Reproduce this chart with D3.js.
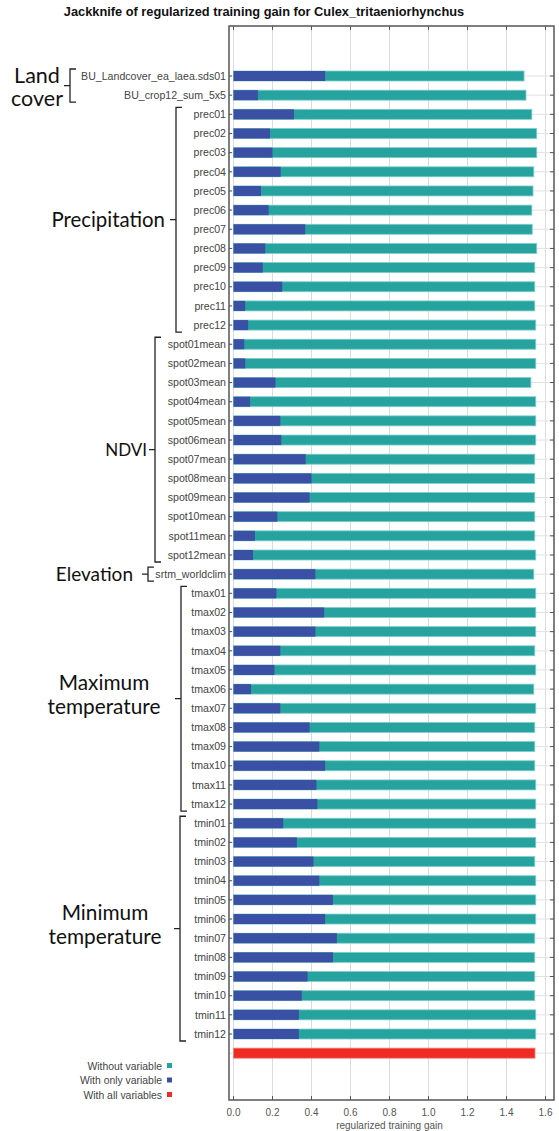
<!DOCTYPE html>
<html><head><meta charset="utf-8">
<script src="https://cdn.jsdelivr.net/npm/d3@7"></script>
<style>body{margin:0;background:#fff;} svg{display:block}</style>
</head><body><svg id="c" width="559" height="1131"></svg>
<script>
// ---------- DATA ----------
const title = "Jackknife of regularized training gain for Culex_tritaeniorhynchus";
const variables = [
  "BU_Landcover_ea_laea.sds01","BU_crop12_sum_5x5",
  "prec01","prec02","prec03","prec04","prec05","prec06","prec07","prec08","prec09","prec10","prec11","prec12",
  "spot01mean","spot02mean","spot03mean","spot04mean","spot05mean","spot06mean","spot07mean","spot08mean","spot09mean","spot10mean","spot11mean","spot12mean",
  "srtm_worldclim",
  "tmax01","tmax02","tmax03","tmax04","tmax05","tmax06","tmax07","tmax08","tmax09","tmax10","tmax11","tmax12",
  "tmin01","tmin02","tmin03","tmin04","tmin05","tmin06","tmin07","tmin08","tmin09","tmin10","tmin11","tmin12"
];
const withoutVariable = [
  1.49,1.50,
  1.53,1.555,1.555,1.54,1.536,1.53,1.532,1.555,1.545,1.545,1.545,1.55,
  1.55,1.55,1.525,1.55,1.55,1.55,1.545,1.545,1.545,1.545,1.545,1.55,
  1.54,
  1.55,1.55,1.55,1.545,1.55,1.54,1.55,1.545,1.545,1.545,1.55,1.55,
  1.55,1.55,1.545,1.55,1.55,1.55,1.545,1.545,1.545,1.545,1.55,1.55
];
const withOnlyVariable = [
  0.47,0.125,
  0.31,0.187,0.20,0.242,0.141,0.18,0.368,0.163,0.15,0.25,0.06,0.075,
  0.055,0.06,0.215,0.085,0.24,0.245,0.37,0.40,0.39,0.225,0.11,0.10,
  0.42,
  0.22,0.465,0.42,0.24,0.21,0.09,0.24,0.39,0.44,0.47,0.425,0.43,
  0.255,0.325,0.41,0.44,0.51,0.47,0.53,0.51,0.38,0.35,0.335,0.335
];
const withAllVariables = 1.546;
const xTicks = [0.0,0.2,0.4,0.6,0.8,1.0,1.2,1.4,1.6];
const xTitle = "regularized training gain";
const legendLabels = ["Without variable","With only variable","With all variables"];
const groupNames = [["Land","cover"],["Precipitation"],["NDVI"],["Elevation"],["Maximum","temperature"],["Minimum","temperature"]];
const groupFirst = ["BU_Landcover_ea_laea.sds01","prec01","spot01mean","srtm_worldclim","tmax01","tmin01"];
const groupLast  = ["BU_crop12_sum_5x5","prec12","spot12mean","srtm_worldclim","tmax12","tmin12"];

// ---------- LAYOUT ----------
const colors = {without:"#26a39f", only:"#3a50a4", all:"#ee2c24"};
const frame = {left:229, right:554, top:26, bottom:1100};
const svg = d3.select("#c");
const x = d3.scaleLinear().domain([0,1.6]).range([233.5,545.5]);
const ALL = "__all__";
const y = d3.scalePoint().domain([...variables, ALL]).range([76, 76 + 51*19.16]);
const barH = 10;
const fam = "Liberation Sans, Arial, sans-serif";

svg.append("text").attr("x",264).attr("y",16).attr("text-anchor","middle")
  .style("font-family",fam).style("font-weight","bold")
  .style("font-size","12.8px").attr("fill","#111").text(title);

// gridlines
const g = svg.append("g");
g.selectAll("line.vg").data(xTicks).join("line")
  .attr("x1",d=>x(d)).attr("x2",d=>x(d)).attr("y1",frame.top).attr("y2",frame.bottom)
  .attr("stroke","#dcdcdc").attr("stroke-width",1);
g.selectAll("line.hg").data(y.domain()).join("line")
  .attr("x1",frame.left).attr("x2",frame.right).attr("y1",d=>y(d)).attr("y2",d=>y(d))
  .attr("stroke","#e2e2e2").attr("stroke-width",1);

// bars
const rows = variables.map((v,i)=>({v, w:withoutVariable[i], o:withOnlyVariable[i]}));
g.selectAll("rect.w").data(rows).join("rect")
  .attr("x",x(0)).attr("y",d=>y(d.v)-barH/2).attr("width",d=>x(d.w)-x(0)).attr("height",barH)
  .attr("fill",colors.without).attr("stroke","#7fcfcb").attr("stroke-width",0.8);
g.selectAll("rect.o").data(rows).join("rect")
  .attr("x",x(0)).attr("y",d=>y(d.v)-barH/2).attr("width",d=>x(d.o)-x(0)).attr("height",barH)
  .attr("fill",colors.only);
g.append("rect").attr("x",x(0)).attr("y",y(ALL)-barH/2).attr("width",x(withAllVariables)-x(0)).attr("height",barH)
  .attr("fill",colors.all).attr("stroke","#f47a74").attr("stroke-width",0.8);

// frame
svg.append("rect").attr("x",frame.left).attr("y",frame.top).attr("width",frame.right-frame.left)
  .attr("height",frame.bottom-frame.top).attr("fill","none").attr("stroke","#555").attr("stroke-width",1.5);

// ticks inward
const tk = svg.append("g").attr("stroke","#555").attr("stroke-width",1);
xTicks.forEach(t=>{
  tk.append("line").attr("x1",x(t)).attr("x2",x(t)).attr("y1",frame.bottom).attr("y2",frame.bottom-4);
  tk.append("line").attr("x1",x(t)).attr("x2",x(t)).attr("y1",frame.top).attr("y2",frame.top+4);
});
variables.forEach(v=>{
  tk.append("line").attr("x1",frame.left).attr("x2",frame.left+3).attr("y1",y(v)).attr("y2",y(v));
  tk.append("line").attr("x1",frame.right).attr("x2",frame.right-4).attr("y1",y(v)).attr("y2",y(v));
});

// x axis labels
svg.append("g").selectAll("text").data(xTicks).join("text")
  .attr("x",d=>x(d)).attr("y",1116).attr("text-anchor","middle")
  .style("font-family",fam).style("font-size","10px").attr("fill","#555")
  .text(d=>d3.format(".1f")(d));
svg.append("text").attr("x",x(0.8)).attr("y",1129).attr("text-anchor","middle")
  .style("font-family",fam).style("font-size","10px").attr("fill","#555").text(xTitle);

// y labels
svg.append("g").selectAll("text").data(variables).join("text")
  .attr("x",226).attr("y",d=>y(d)+3.7).attr("text-anchor","end")
  .style("font-family",fam).style("font-size","10.6px").attr("fill","#444").text(d=>d);

// legend
legendLabels.forEach((t,i)=>{
  const yy = 1066 + i*14.5;
  svg.append("text").attr("x",162).attr("y",yy+3.6).attr("text-anchor","end")
    .style("font-family",fam).style("font-size","10.4px").attr("fill","#444").text(t);
  svg.append("rect").attr("x",167).attr("y",yy-3).attr("width",5).attr("height",5)
    .attr("fill",[colors.without,colors.only,colors.all][i]);
});

// group brackets
const bx = [70,176,155,148,181,180];
const labelX = [37,165,147,133,104,105];      // right edge (single line) or centre (two lines)
const labelSize = [21.5,20.4,17,19,20.8,20.8];
const lineGap = [23.5,0,0,0,24,24.5];
const labelDy = [1,0,0,0,-4,-4];
const br = svg.append("g").attr("stroke","#222").attr("stroke-width",1.3).attr("fill","none");
groupNames.forEach((nm,i)=>{
  const t = y(groupFirst[i]) - 7, b = y(groupLast[i]) + 7, m = (t+b)/2;
  br.append("path").attr("d",`M${bx[i]+6},${t}H${bx[i]}V${b}H${bx[i]+6}M${bx[i]},${m}H${bx[i]-6}`);
  nm.forEach((line,j)=>{
    const cy = m + labelDy[i] + (j-(nm.length-1)/2)*lineGap[i];
    svg.append("text").attr("x", labelX[i])
      .attr("y",cy + labelSize[i]*0.36).attr("text-anchor", nm.length>1 ? "middle":"end")
      .style("font-family","Lato, Open Sans, sans-serif").style("font-size",labelSize[i]+"px")
      .attr("fill","#111").text(line);
  });
});
</script></body></html>
